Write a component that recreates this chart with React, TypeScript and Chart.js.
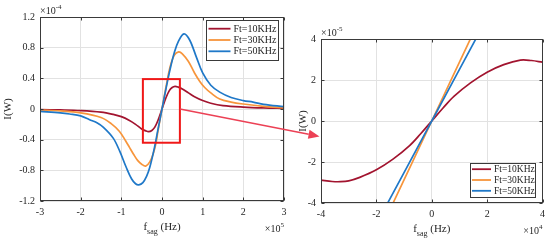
import React, { useEffect, useRef } from "react";
import { Chart, registerables } from "chart.js";

Chart.register(...registerables);

// ---------- data ----------
const seriesNames = ["Ft=10KHz", "Ft=30KHz", "Ft=50KHz"];
const seriesColors = ["#A2142F", "#F7953B", "#1F78C8"];

// Left panel: x in 1e5 Hz, y in 1e-4 W
const leftRedX = [-3, -2.5, -2, -1.5, -1.2, -1, -0.8, -0.65, -0.5, -0.4, -0.33, -0.25, -0.18, -0.1, 0, 0.1, 0.18, 0.25, 0.32, 0.4, 0.5, 0.65, 0.8, 1, 1.2, 1.5, 2, 2.5, 3];
const leftRedY = [-0.008, -0.012, -0.02, -0.04, -0.07, -0.1, -0.15, -0.2, -0.26, -0.285, -0.295, -0.28, -0.24, -0.15, 0, 0.15, 0.24, 0.28, 0.295, 0.285, 0.26, 0.21, 0.16, 0.11, 0.075, 0.045, 0.025, 0.014, 0.008];

const leftOrangeX = [-3, -2.5, -2, -1.5, -1.25, -1.05, -0.9, -0.8, -0.7, -0.6, -0.5, -0.4, -0.3, -0.22, -0.15, -0.1, 0, 0.1, 0.2, 0.3, 0.41, 0.5, 0.65, 0.8, 0.93, 1.05, 1.2, 1.42, 1.7, 2, 2.5, 3];
const leftOrangeY = [-0.013, -0.025, -0.05, -0.11, -0.19, -0.29, -0.41, -0.5, -0.59, -0.67, -0.72, -0.745, -0.69, -0.59, -0.45, -0.29, 0, 0.29, 0.55, 0.7, 0.745, 0.72, 0.62, 0.47, 0.36, 0.28, 0.21, 0.13, 0.09, 0.065, 0.035, 0.015];

const leftBlueX = [-3, -2.5, -2.27, -2, -1.78, -1.6, -1.44, -1.2, -1.04, -0.88, -0.75, -0.65, -0.57, -0.47, -0.38, -0.3, -0.2, -0.1, 0, 0.1, 0.2, 0.3, 0.4, 0.54, 0.68, 0.85, 1, 1.2, 1.42, 1.7, 2, 2.24, 2.5, 3];
const leftBlueY = [-0.03, -0.05, -0.065, -0.09, -0.14, -0.18, -0.24, -0.38, -0.55, -0.76, -0.91, -0.975, -0.99, -0.96, -0.88, -0.76, -0.54, -0.27, 0, 0.27, 0.52, 0.73, 0.88, 0.98, 0.9, 0.67, 0.47, 0.31, 0.22, 0.15, 0.11, 0.09, 0.06, 0.03];

const leftXTicks = [-3, -2, -1, 0, 1, 2, 3];
const leftYTicks = [-1.2, -0.8, -0.4, 0, 0.4, 0.8, 1.2];
const zoomBoxX = [-0.47, 0.44];
const zoomBoxY = [-0.44, 0.39];

// Right panel: x in 1e4 Hz, y in 1e-5 W
const rightRedX = [-4, -3.6, -3.3, -3, -2.6, -2, -1.4, -0.8, -0.4, 0, 0.4, 0.8, 1.4, 2, 2.6, 3.2, 3.6, 4];
const rightRedY = [-2.88, -2.95, -2.96, -2.92, -2.75, -2.38, -1.86, -1.2, -0.62, 0, 0.62, 1.2, 1.86, 2.38, 2.75, 2.97, 2.95, 2.87];
const rightOrangeX = [-1.5, 0, 1.5];
const rightOrangeY = [-4.3, 0, 4.3];
const rightBlueX = [-1.75, 0, 1.75];
const rightBlueY = [-4.4, 0, 4.4];

const rightXTicks = [-4, -2, 0, 2, 4];
const rightYTicks = [-4, -2, 0, 2, 4];

// ---------- helpers ----------
const FONT = '"Liberation Serif", "Times New Roman", serif';
const TEXT = "#262626";

type Part = { t: string; size: number; dy: number };

function drawRich(ctx: CanvasRenderingContext2D, parts: Part[], x: number, y: number, align: "left" | "center" | "right") {
  let w = 0;
  for (const p of parts) {
    ctx.font = `${p.size}px ${FONT}`;
    w += ctx.measureText(p.t).width;
  }
  let cx = align === "left" ? x : align === "center" ? x - w / 2 : x - w;
  ctx.textAlign = "left";
  ctx.textBaseline = "alphabetic";
  for (const p of parts) {
    ctx.font = `${p.size}px ${FONT}`;
    ctx.fillText(p.t, cx, y + p.dy);
    cx += ctx.measureText(p.t).width;
  }
}

type Panel = {
  series: { x: number[]; y: number[] }[];
  xMin: number; xMax: number; yMin: number; yMax: number;
  xTicks: number[]; yTicks: number[];
  yDecimals: number;
  padRight: number; padTop: number; xH: number; yW: number;
  topExp: string; bottomExp: string;
  yTitleX: number;
  legend: { anchor: "topright" | "bottomright"; dx: number; dy: number; w: number; h: number; font: number; row: number; lineLen: number };
  box?: { x: number[]; y: number[] };
};

function decorPlugin(p: Panel) {
  return {
    id: "decor",
    afterDraw(chart: any) {
      const ctx: CanvasRenderingContext2D = chart.ctx;
      const a = chart.chartArea;
      const xs = chart.scales.x;
      const ys = chart.scales.y;
      ctx.save();
      // frame
      ctx.strokeStyle = "#3a3a3a";
      ctx.lineWidth = 1;
      const L = Math.round(a.left) + 0.5, R = Math.round(a.right) - 0.5, T = Math.round(a.top) + 0.5, B = Math.round(a.bottom) - 0.5;
      ctx.strokeRect(L, T, R - L, B - T);
      // inward ticks
      ctx.beginPath();
      for (const v of p.xTicks) {
        const px = Math.round(xs.getPixelForValue(v)) + 0.5;
        ctx.moveTo(px, B); ctx.lineTo(px, B - 3);
        ctx.moveTo(px, T); ctx.lineTo(px, T + 3);
      }
      for (const v of p.yTicks) {
        const py = Math.round(ys.getPixelForValue(v)) + 0.5;
        ctx.moveTo(L, py); ctx.lineTo(L + 3, py);
        ctx.moveTo(R, py); ctx.lineTo(R - 3, py);
      }
      ctx.stroke();

      ctx.fillStyle = TEXT;
      // exponents
      drawRich(ctx, [{ t: "×10", size: 10, dy: 0 }, { t: p.topExp, size: 7, dy: -5 }], a.left, a.top - 3, "left");
      drawRich(ctx, [{ t: "×10", size: 10, dy: 0 }, { t: p.bottomExp, size: 7, dy: -5 }], a.right, a.bottom + 31, "right");
      // x title
      drawRich(ctx, [{ t: "f", size: 11, dy: 0 }, { t: "sag", size: 8, dy: 4 }, { t: " (Hz)", size: 11, dy: 0 }], (a.left + a.right) / 2, a.bottom + 29, "center");
      // y title
      ctx.save();
      ctx.translate(p.yTitleX, (a.top + a.bottom) / 2);
      ctx.rotate(-Math.PI / 2);
      drawRich(ctx, [{ t: "I(W)", size: 11, dy: 0 }], 0, 4, "center");
      ctx.restore();

      // zoom box
      if (p.box) {
        const x1 = xs.getPixelForValue(p.box.x[0]);
        const x2 = xs.getPixelForValue(p.box.x[1]);
        const y1 = ys.getPixelForValue(p.box.y[1]);
        const y2 = ys.getPixelForValue(p.box.y[0]);
        ctx.strokeStyle = "#F01818";
        ctx.lineWidth = 2;
        ctx.strokeRect(x1, y1, x2 - x1, y2 - y1);
      }

      // legend
      const lg = p.legend;
      const bx = a.right - lg.dx - lg.w;
      const by = lg.anchor === "topright" ? a.top + lg.dy : a.bottom - lg.dy - lg.h;
      ctx.fillStyle = "#ffffff";
      ctx.fillRect(bx, by, lg.w, lg.h);
      ctx.strokeStyle = "#3a3a3a";
      ctx.lineWidth = 1;
      ctx.strokeRect(Math.round(bx) + 0.5, Math.round(by) + 0.5, lg.w, lg.h);
      const rowsH = lg.row * seriesNames.length;
      const startY = by + (lg.h - rowsH) / 2 + lg.row / 2;
      seriesNames.forEach((name, i) => {
        const ry = startY + i * lg.row;
        ctx.strokeStyle = seriesColors[i];
        ctx.lineWidth = 1.8;
        ctx.beginPath();
        ctx.moveTo(bx + 2.5, ry);
        ctx.lineTo(bx + 2.5 + lg.lineLen, ry);
        ctx.stroke();
        ctx.fillStyle = TEXT;
        ctx.font = `${lg.font}px ${FONT}`;
        ctx.textAlign = "left";
        ctx.textBaseline = "middle";
        ctx.fillText(name, bx + 2.5 + lg.lineLen + 3, ry + 0.5);
      });
      ctx.restore();
    },
  };
}

function makeConfig(p: Panel): any {
  const fmt = (v: number) => String(Number(v.toFixed(p.yDecimals)));
  return {
    type: "line",
    data: {
      datasets: p.series.map((s, i) => ({
        label: seriesNames[i],
        data: s.x.map((x, j) => ({ x, y: s.y[j] })),
        borderColor: seriesColors[i],
        backgroundColor: seriesColors[i],
        borderWidth: 1.7,
        pointRadius: 0,
        fill: false,
        tension: 0.35,
        order: 2 - i,
      })),
    },
    options: {
      animation: false,
      responsive: false,
      devicePixelRatio: 1,
      events: [],
      layout: { padding: { left: 0, right: p.padRight, top: p.padTop, bottom: 0 } },
      plugins: { legend: { display: false }, tooltip: { enabled: false } },
      scales: {
        x: {
          type: "linear",
          min: p.xMin,
          max: p.xMax,
          afterBuildTicks: (s: any) => { s.ticks = p.xTicks.map((v) => ({ value: v })); },
          ticks: { autoSkip: false, maxRotation: 0, padding: 5, color: TEXT, font: { family: FONT, size: 10 }, callback: (v: number) => String(v) },
          grid: { color: "#e2e2e2", drawTicks: false, lineWidth: 1 },
          border: { display: false },
          afterFit: (s: any) => { s.height = p.xH; },
        },
        y: {
          type: "linear",
          min: p.yMin,
          max: p.yMax,
          afterBuildTicks: (s: any) => { s.ticks = p.yTicks.map((v) => ({ value: v })); },
          ticks: { autoSkip: false, padding: 5, color: TEXT, font: { family: FONT, size: 10 }, callback: (v: number) => fmt(v) },
          grid: { color: "#e2e2e2", drawTicks: false, lineWidth: 1 },
          border: { display: false },
          afterFit: (s: any) => { s.width = p.yW; },
        },
      },
    },
    plugins: [decorPlugin(p)],
  };
}

const LEFT_W = 298;
const RIGHT_X = 298;
const RIGHT_W = 252;
const H = 243;

export default function App() {
  const leftRef = useRef<HTMLCanvasElement>(null);
  const rightRef = useRef<HTMLCanvasElement>(null);
  const overRef = useRef<HTMLCanvasElement>(null);

  useEffect(() => {
    const leftPanel: Panel = {
      series: [
        { x: leftRedX, y: leftRedY },
        { x: leftOrangeX, y: leftOrangeY },
        { x: leftBlueX, y: leftBlueY },
      ],
      xMin: -3, xMax: 3, yMin: -1.2, yMax: 1.2,
      xTicks: leftXTicks, yTicks: leftYTicks, yDecimals: 1,
      padRight: 14, padTop: 17, xH: 42, yW: 40,
      topExp: "-4", bottomExp: "5",
      yTitleX: 7,
      legend: { anchor: "topright", dx: 6, dy: 3, w: 72, h: 40, font: 10, row: 11.3, lineLen: 22 },
      box: { x: zoomBoxX, y: zoomBoxY },
    };
    const rightPanel: Panel = {
      series: [
        { x: rightRedX, y: rightRedY },
        { x: rightOrangeX, y: rightOrangeY },
        { x: rightBlueX, y: rightBlueY },
      ],
      xMin: -4, xMax: 4, yMin: -4, yMax: 4,
      xTicks: rightXTicks, yTicks: rightYTicks, yDecimals: 0,
      padRight: 7, padTop: 39, xH: 40, yW: 23,
      topExp: "-5", bottomExp: "4",
      yTitleX: 4,
      legend: { anchor: "bottomright", dx: 8, dy: 6, w: 65, h: 34, font: 9.5, row: 10.8, lineLen: 19 },
    };
    const left = new Chart(leftRef.current as HTMLCanvasElement, makeConfig(leftPanel));
    const right = new Chart(rightRef.current as HTMLCanvasElement, makeConfig(rightPanel));

    // arrow from zoom box to right panel
    const oc = overRef.current as HTMLCanvasElement;
    const ctx = oc.getContext("2d") as CanvasRenderingContext2D;
    ctx.clearRect(0, 0, oc.width, oc.height);
    const sx = (left.scales as any).x.getPixelForValue(zoomBoxX[1]);
    const sy = (left.scales as any).y.getPixelForValue(0);
    const ex = RIGHT_X + right.chartArea.left - 1.5;
    const ey = (right.scales as any).y.getPixelForValue(-0.75);
    const ang = Math.atan2(ey - sy, ex - sx);
    const headL = 11, headW = 4.5;
    const bxp = ex - headL * Math.cos(ang), byp = ey - headL * Math.sin(ang);
    ctx.strokeStyle = "#EC4155";
    ctx.fillStyle = "#EC4155";
    ctx.lineWidth = 1.6;
    ctx.beginPath();
    ctx.moveTo(sx, sy);
    ctx.lineTo(bxp, byp);
    ctx.stroke();
    ctx.beginPath();
    ctx.moveTo(ex, ey);
    ctx.lineTo(bxp + headW * Math.sin(ang), byp - headW * Math.cos(ang));
    ctx.lineTo(bxp - headW * Math.sin(ang), byp + headW * Math.cos(ang));
    ctx.closePath();
    ctx.fill();

    return () => {
      left.destroy();
      right.destroy();
    };
  }, []);

  return (
    <div style={{ position: "absolute", left: 0, top: 0, width: 550, height: H, background: "#ffffff", overflow: "hidden" }}>
      <canvas ref={leftRef} width={LEFT_W} height={H} style={{ position: "absolute", left: 0, top: 0, width: LEFT_W, height: H }} />
      <canvas ref={rightRef} width={RIGHT_W} height={H} style={{ position: "absolute", left: RIGHT_X, top: 0, width: RIGHT_W, height: H }} />
      <canvas ref={overRef} width={550} height={H} style={{ position: "absolute", left: 0, top: 0, width: 550, height: H, pointerEvents: "none" }} />
    </div>
  );
}
